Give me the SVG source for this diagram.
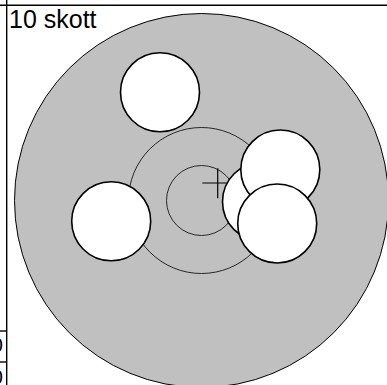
<svg xmlns="http://www.w3.org/2000/svg" width="387" height="385" viewBox="0 0 387 385">
<style>
.shot{fill:#fff;stroke:#000;stroke-width:1.6}
.ring{fill:none;stroke:#000;stroke-width:0.8}
.frame{stroke:#000;stroke-width:1.4;fill:none}
text{font-family:"Liberation Sans",Arial,sans-serif;fill:#000}
</style>
<rect width="387" height="385" fill="#fff"/>
<g id="frame">
<line class="frame" x1="0" y1="5.3" x2="387" y2="5.3"/>
<line class="frame" x1="6.7" y1="0" x2="6.7" y2="385"/>
<line class="frame" x1="0" y1="331" x2="6.7" y2="331"/>
<line class="frame" x1="0" y1="362" x2="6.7" y2="362"/>
<text x="3" y="352" font-size="20" text-anchor="end">10</text>
<text x="3" y="384" font-size="20" text-anchor="end">10</text>
</g>
<g id="target">
<circle cx="201.5" cy="200.5" r="187" fill="#c0c0c0" stroke="#000" stroke-width="1"/>
<circle class="ring" cx="201.5" cy="200.5" r="73"/>
<circle class="ring" cx="201.5" cy="200.5" r="35"/>
<path d="M202.3 183H233.3M217.7 168.3V198.3" stroke="#000" stroke-width="1.2" fill="none"/>
</g>
<g id="title"><text x="9" y="28" font-size="25">10 skott</text></g>
<g id="shots">
<circle class="shot" cx="160" cy="92.3" r="39.5"/>
<circle class="shot" cx="111.2" cy="221.3" r="39.5"/>
<circle class="shot" cx="262" cy="201.7" r="39.5"/>
<circle class="shot" cx="280.3" cy="169.5" r="39.5"/>
<circle class="shot" cx="277.2" cy="223.5" r="39.5"/>
</g>
</svg>
